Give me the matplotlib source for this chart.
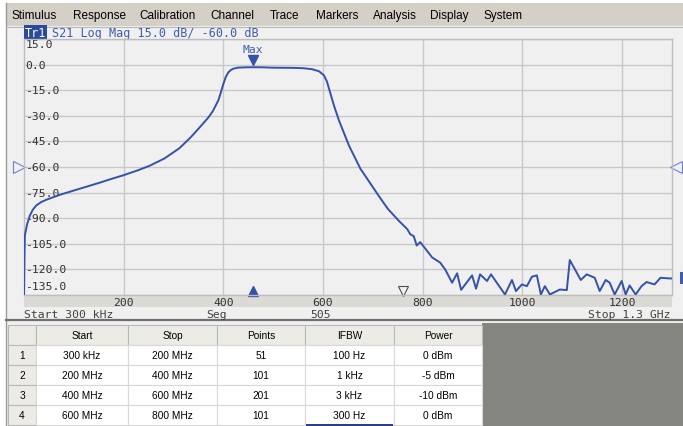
import matplotlib.pyplot as plt
from matplotlib.patches import Rectangle
from matplotlib.transforms import offset_copy

W, H = 683, 427

# S21 trace (MHz, dB)
freq_mhz = [0.3, 1, 2, 6.6, 12, 18, 25, 35, 45, 72, 100, 152, 172, 200, 230, 252,
            282, 312, 335, 352, 370, 379, 390, 395, 400, 405, 410, 415, 420, 429,
            445, 459, 480, 498, 538, 560, 578, 592, 602, 608, 615, 622, 632, 652,
            675, 712, 730, 752, 769, 775, 782, 788, 795, 819, 835, 845, 859, 869,
            877, 899, 907, 915, 929, 937, 965, 979, 987, 999, 1009, 1019, 1029,
            1037, 1045, 1055, 1075, 1089, 1095, 1117, 1129, 1145, 1155, 1167,
            1175, 1185, 1199, 1207, 1215, 1227, 1239, 1249, 1265, 1277, 1295, 1300]
s21_db = [-135, -118, -100, -93.5, -88.5, -85, -82.5, -80.5, -79.2, -76.3, -73.8,
          -69.2, -67.3, -64.8, -61.8, -59.3, -55, -49, -42.5, -37, -31, -27.3,
          -21, -16.5, -11.5, -7.3, -4.6, -3.2, -2.4, -1.8, -1.6, -1.54, -1.6,
          -1.8, -1.9, -2.1, -2.7, -3.9, -6.3, -10, -17, -24, -32.7, -47.4, -61,
          -77, -84.5, -91.5, -96.4, -99.4, -100.5, -106, -104, -113, -116, -120,
          -127.8, -122.3, -132, -123.5, -131.3, -122.9, -126.8, -122.9, -134.7,
          -126.2, -132.7, -128.8, -129.8, -124.3, -123.5, -134.7, -129.8, -134.7,
          -131.8, -132.1, -114.5, -126.2, -122.9, -124.9, -132.7, -126.2, -127.8,
          -134.7, -126.8, -134.7, -129.4, -134.7, -129.8, -127.4, -128.8, -124.9,
          -125.3, -125.3]

x_ticks = [200, 400, 600, 800, 1000, 1200]
y_ticks = [15, 0, -15, -30, -45, -60, -75, -90, -105, -120, -135]

marker_freq = 459.0
marker_db = -1.5405
ref_level = -60.0
stim_pos = 760  # hollow triangle on the bottom edge

menu_items = ['Stimulus', 'Response', 'Calibration', 'Channel', 'Trace',
              'Markers', 'Analysis', 'Display', 'System']
menu_x = [12, 73, 139, 210, 270, 316, 373, 430, 483]

# segment table
table_header = ['Start', 'Stop', 'Points', 'IFBW', 'Power']
seg_num = ['1', '2', '3', '4']
seg_start = ['300 kHz', '200 MHz', '400 MHz', '600 MHz']
seg_stop = ['200 MHz', '400 MHz', '600 MHz', '800 MHz']
seg_points = ['51', '101', '201', '101']
seg_ifbw = ['100 Hz', '1 kHz', '3 kHz', '300 Hz']
seg_power = ['0 dBm', '-5 dBm', '-10 dBm', '0 dBm']

trace_col = '#3452A8'
text_blue = '#3F5DB0'
mono = 'DejaVu Sans Mono'

fig = plt.figure(figsize=(W / 100, H / 100), dpi=100)
fig.patch.set_facecolor('white')

# background layer in pixel coordinates
bg = fig.add_axes([0, 0, 1, 1])
bg.set_xlim(0, W)
bg.set_ylim(H, 0)
bg.axis('off')


def box(x0, y0, x1, y1, **kw):
    bg.add_patch(Rectangle((x0, y0), x1 - x0, y1 - y0, **kw))


box(6, 27, W, 321, fc='#F0F0F0', ec='none')
box(6, 4, W, 27, fc='#D4D0C8', ec='none')
bg.plot([5.5, 5.5], [4, H], color='#9A9A9A', lw=1)
bg.plot([6, W], [27.5, 27.5], color='#B8B8B8', lw=0.8)
for name, x in zip(menu_items, menu_x):
    bg.text(x, 16, name, fontsize=8.5, family='Liberation Sans', va='center', color='black')

# title line
bg.text(25, 33.5, 'Tr1', fontsize=8.5, family=mono, color='white', va='center',
        bbox=dict(fc='#2C4A9A', ec='none', pad=0.6))
bg.text(52, 33.5, 'S21 Log Mag 15.0 dB/ -60.0 dB', fontsize=8.5, family=mono,
        color=text_blue, va='center')

# tick label strip and sweep info
box(24, 296, 672, 308, fc='#DCDAD5', ec='none')
bg.text(24, 315, 'Start 300 kHz', fontsize=8.2, family=mono, color='#404040', va='center')
bg.text(206, 315, 'Seg', fontsize=8.2, family=mono, color='#404040', va='center')
bg.text(310, 315, '505', fontsize=8.2, family=mono, color='#404040', va='center')
bg.text(671, 315, 'Stop 1.3 GHz', fontsize=8.2, family=mono, color='#404040',
        va='center', ha='right')

# marker readout
bg.text(399, 101, '1', fontsize=6, family=mono, color='white', va='center', ha='center',
        fontweight='bold', bbox=dict(fc=text_blue, ec='none', pad=0.4))
bg.text(425, 101, f'{marker_freq:.5f} MHz', fontsize=8.5, family=mono, color=text_blue, va='center')
bg.text(525, 101, f'{marker_db:.4f} dB', fontsize=8.5, family=mono, color=text_blue, va='center')
box(680, 273, 684, 285, fc=text_blue, ec='none')

# separator and table area
bg.plot([6, W], [321, 321], color='#6E6E6E', lw=1.6)
box(6, 322, W, H, fc='#F0F0F0', ec='none')
box(482, 324, W, H, fc='#858580', ec='none')

col_edges = [8, 36, 128, 217, 305, 394, 482]
row_edges = [326, 346, 366, 386, 406, 426]
tfont = dict(fontsize=7.3, family='Liberation Sans', color='black', ha='center', va='center')
columns = [seg_start, seg_stop, seg_points, seg_ifbw, seg_power]
for r in range(len(row_edges) - 1):
    y0, y1 = row_edges[r], row_edges[r + 1]
    for c in range(len(col_edges) - 1):
        x0, x1 = col_edges[c], col_edges[c + 1]
        head = r == 0 or c == 0
        box(x0, y0, x1, y1, fc='#ECEBE6' if head else 'white',
            ec='#B8B8B8' if head else '#D8D8D8', lw=0.8)
        xc, yc = (x0 + x1) / 2, (y0 + y1) / 2
        if r == 0 and c > 0:
            bg.text(xc, yc, table_header[c - 1], **tfont)
        elif r > 0 and c == 0:
            bg.text(xc, yc, seg_num[r - 1], **tfont)
        elif r > 0:
            bg.text(xc, yc, columns[c - 1][r - 1], **tfont)
box(306, 424.5, 393, 427, fc='#2C3E8A', ec='none')

# the trace plot
ax = fig.add_axes([24 / W, 1 - 296 / H, 648 / W, 256 / H])
ax.set_facecolor('#F0F0F0')
ax.set_xlim(0.3, 1300)
ax.set_ylim(-135, 15)
ax.set_xticks(x_ticks)
ax.set_xticklabels([str(v) for v in x_ticks], fontsize=8.2, family=mono, color='#303030')
ax.set_yticks(y_ticks)
ax.tick_params(axis='x', length=0, pad=1.5)
ax.tick_params(axis='y', length=0, labelleft=False)
ax.grid(True, color='#C8C8C8', lw=1)
ax.set_axisbelow(True)
for s in ax.spines.values():
    s.set_color('#BDBDBD')
    s.set_linewidth(1)

# y labels sit inside the grid, top and bottom pulled in
for v in y_ticks:
    dy = -5 if v == y_ticks[0] else (9 if v == y_ticks[-1] else 0)
    ax.text(0.002, v, f'{v:.1f}', fontsize=8.2, family=mono, color='#303030', va='center',
            transform=offset_copy(ax.get_yaxis_transform(), fig=fig, x=0, y=dy, units='dots'),
            clip_on=False, zorder=1)

ax.plot(freq_mhz, s21_db, color=trace_col, lw=1.4, zorder=3)

# max marker
ax.plot(marker_freq, marker_db, marker='v', ms=6.5, color=trace_col, ls='none',
        transform=offset_copy(ax.transData, fig=fig, y=7.5, units='dots'), zorder=4)
ax.text(marker_freq, marker_db, 'Max', fontsize=8.2, family=mono, color=text_blue,
        ha='center', va='center',
        transform=offset_copy(ax.transData, fig=fig, y=18, units='dots'))
ax.plot(marker_freq, 0, marker='^', ms=6.5, color=trace_col, ls='none', clip_on=False,
        transform=offset_copy(ax.get_xaxis_transform(), fig=fig, y=4, units='dots'))
ax.plot(stim_pos, 0, marker='v', ms=7, mfc='none', mec='#505050', mew=0.8, ls='none',
        clip_on=False, transform=offset_copy(ax.get_xaxis_transform(), fig=fig, y=4, units='dots'))

# reference level arrows
ax.plot(0, ref_level, marker='>', ms=8, mfc='none', mec='#7080D0', mew=0.8, ls='none',
        clip_on=False, transform=offset_copy(ax.get_yaxis_transform(), fig=fig, x=-5, units='dots'))
ax.plot(1, ref_level, marker='<', ms=8, mfc='none', mec='#7080D0', mew=0.8, ls='none',
        clip_on=False, transform=offset_copy(ax.get_yaxis_transform(), fig=fig, x=4, units='dots'))

fig.savefig('out.png', dpi=100)
